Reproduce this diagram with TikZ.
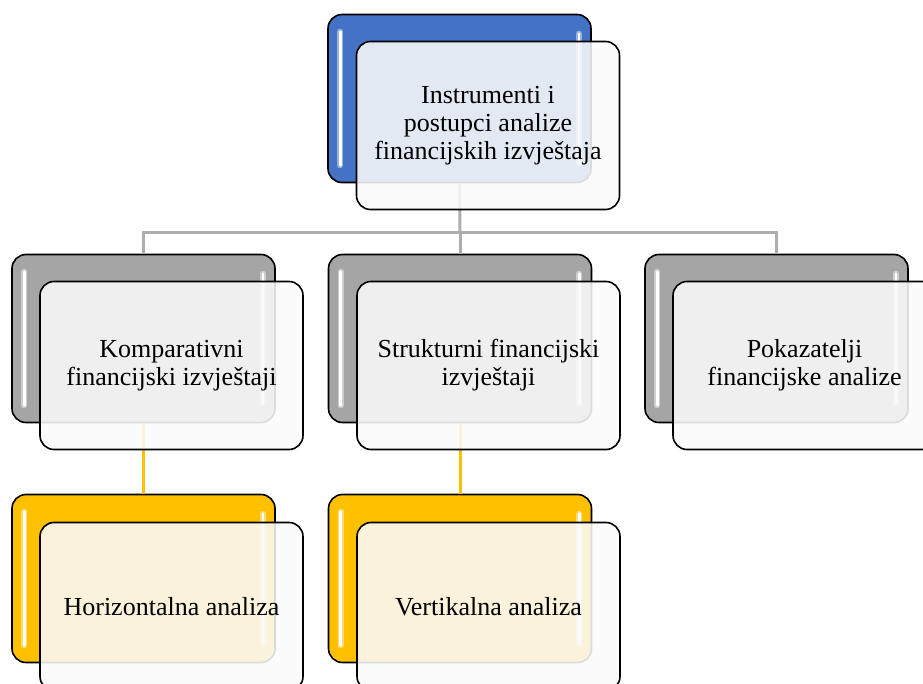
\documentclass[tikz,border=0pt]{standalone}
\usepackage{fontspec}
\setmainfont{Liberation Serif}
\definecolor{bblue}{HTML}{4472C4}
\definecolor{bgray}{HTML}{A5A5A5}
\definecolor{byellow}{HTML}{FFC000}
\definecolor{linkgray}{HTML}{ADADAD}
\tikzset{
  backbox/.style={draw=black, line width=1.6pt, rounded corners=14pt,
    minimum width=263pt, minimum height=168pt, inner sep=0pt},
  frontbox/.style={draw=black, line width=1.6pt, rounded corners=14pt,
    minimum width=263pt, minimum height=168pt, inner sep=0pt,
    fill=white!98!black, fill opacity=0.88, text opacity=1, align=center,
    font=\fontsize{26}{28}\selectfont},
  glossout/.style={line width=6pt, line cap=round},
  glossin/.style={white, line width=2.6pt, line cap=round},
  graylink/.style={draw=linkgray, line width=3pt},
  yellowlink/.style={draw=byellow, line width=3pt},
}
\newcommand{\glossbars}[2]{%
  \draw[glossout, #2!55!white] ([xshift=13pt,yshift=-18pt]#1.north west) -- ([xshift=13pt,yshift=18pt]#1.south west);
  \draw[glossin] ([xshift=13pt,yshift=-18pt]#1.north west) -- ([xshift=13pt,yshift=18pt]#1.south west);
  \draw[glossout, #2!55!white] ([xshift=-13pt,yshift=-20pt]#1.north east) -- ([xshift=-13pt,yshift=20pt]#1.south east);
  \draw[glossin] ([xshift=-13pt,yshift=-20pt]#1.north east) -- ([xshift=-13pt,yshift=20pt]#1.south east);
}
\begin{document}
\begin{tikzpicture}[x=1pt,y=-1pt]
\useasboundingbox (0,0) rectangle (923,684);
\clip (0,0) rectangle (923,684);
% back boxes
\node[backbox, fill=bblue] (b0) at (459.5,98.5) {};
\node[backbox, fill=bgray] (b1) at (143.5,338.5) {};
\node[backbox, fill=bgray] (b2) at (460,338.5) {};
\node[backbox, fill=bgray] (b3) at (776.5,338.5) {};
\node[backbox, fill=byellow] (b4) at (143.5,578.5) {};
\node[backbox, fill=byellow] (b5) at (460,578.5) {};
\glossbars{b0}{bblue}
\glossbars{b1}{bgray}
\glossbars{b2}{bgray}
\glossbars{b3}{bgray}
\glossbars{b4}{byellow}
\glossbars{b5}{byellow}
% connectors
\coordinate (j) at (460,233);
\draw[graylink] (b0.south) -- (j);
\draw[graylink] (b1.north) |- (j) -| (b3.north);
\draw[graylink] (j) -- (b2.north);
\draw[yellowlink] (b1.south) -- (b4.north);
\draw[yellowlink] (b2.south) -- (b5.north);
% front boxes
\node[frontbox] (f0) at (488,125.5) {Instrumenti i\\postupci analize\\financijskih izvještaja};
\node[frontbox] (f1) at (171.5,365.5) {Komparativni\\financijski izvještaji};
\node[frontbox] (f2) at (488.5,365.5) {Strukturni financijski\\izvještaji};
\node[frontbox] (f3) at (804.5,365.5) {Pokazatelji\\financijske analize};
\node[frontbox] (f4) at (171.5,606.5) {Horizontalna analiza};
\node[frontbox] (f5) at (488.5,606.5) {Vertikalna analiza};
\end{tikzpicture}
\end{document}
